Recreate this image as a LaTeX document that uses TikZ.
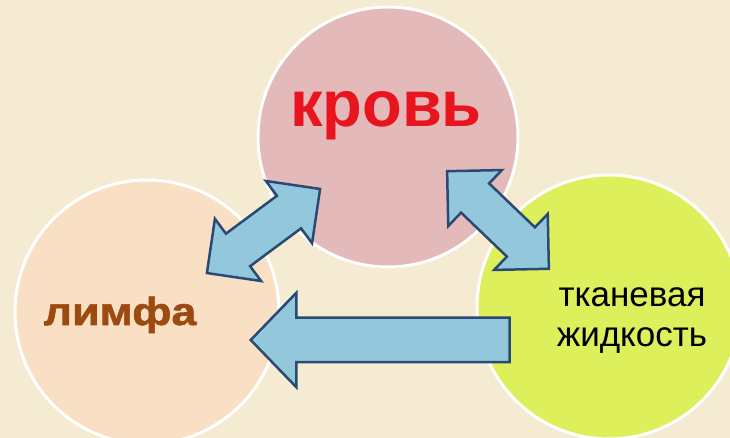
\documentclass[tikz,border=0pt]{standalone}
\usepackage{fontspec}
\setmainfont{Liberation Sans}
\newfontfamily\widefont{Liberation Sans}[FakeStretch=1.15,FakeBold=1.5]
\usetikzlibrary{shapes.arrows}

\definecolor{bgcream}{HTML}{F5EAD2}
\definecolor{bloodpink}{HTML}{E4B9B9}
\definecolor{lymphpeach}{HTML}{F9DFC3}
\definecolor{tissuelime}{HTML}{DDF05C}
\definecolor{arrowfill}{HTML}{93C8DC}
\definecolor{arrowline}{HTML}{2A4A74}
\definecolor{bloodred}{HTML}{E8141E}
\definecolor{lymphbrown}{HTML}{9C4A10}

\tikzset{
  circ/.style={circle, draw=white, line width=3pt, minimum size=#1, inner sep=0pt},
  blockarrow/.style={draw=arrowline, fill=arrowfill, line width=2.5pt,
    inner xsep=0pt, text height=0pt, text depth=0pt, text width=0pt},
  dblarrow/.style={blockarrow, double arrow, double arrow tip angle=90,
    inner ysep=19pt, double arrow head extend=18.5pt, minimum height=141pt},
  sglarrow/.style={blockarrow, single arrow, single arrow tip angle=92,
    inner ysep=21pt, single arrow head extend=25pt, minimum height=259pt},
}

\begin{document}
\begin{tikzpicture}[x=1pt,y=1pt]
  \clip (0,0) rectangle (730,438);
  \fill[bgcream] (0,0) rectangle (730,438);
  % circles
  \node[circ=260pt, fill=bloodpink] (krov) at (388,301) {};
  \node[circ=264pt, fill=lymphpeach] (limfa) at (147,126) {};
  \node[circ=264pt, fill=tissuelime] (tkan) at (609,131) {};
  % texts
  \node[anchor=base, text=bloodred, font=\bfseries\fontsize{65}{65}\selectfont] (krovtxt) at (386,311) {кровь};
  \node[anchor=base, text=lymphbrown, font=\widefont\bfseries\fontsize{39}{39}\selectfont] (limfatxt) at (120,113) {лимфа};
  \node[anchor=base, align=center, font=\fontsize{35}{40}\selectfont] (tkantxt) at (632,91) {тканевая\\жидкость};
  % arrows
  \node[dblarrow, rotate=36.6] (lk) at (263.5,207) {};
  \node[dblarrow, rotate=-43.8] (kt) at (498,218) {};
  \node[sglarrow, rotate=180, anchor=tip] (tl) at (249,98) {};
\end{tikzpicture}
\end{document}
